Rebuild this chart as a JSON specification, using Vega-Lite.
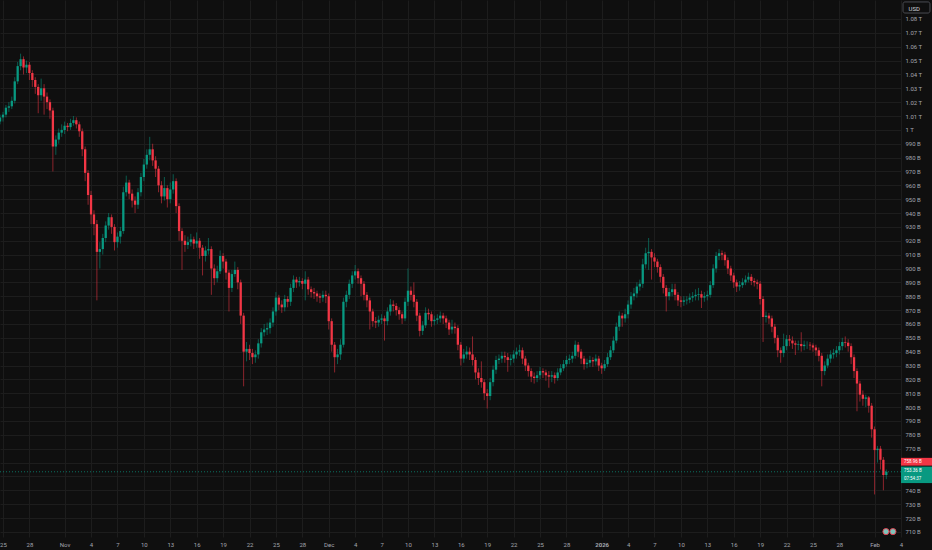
{
"$schema":"https://vega.github.io/schema/vega-lite/v6.json",
"width":901,"height":537,
"autosize":{"type":"none"},
"padding":{"left":0,"top":0,"right":31,"bottom":13},
"background":"#0f0f0f",
"config":{"view":{"stroke":null},"font":"Roboto","scale":{"continuousPadding":0}},
"datasets":{"candles":[
{"t":"2025-10-24T16:00","o":1006,"h":1011,"l":1004,"c":1009},
{"t":"2025-10-25T00:00","o":1009,"h":1013,"l":1006,"c":1011},
{"t":"2025-10-25T08:00","o":1011,"h":1018,"l":1009,"c":1016},
{"t":"2025-10-25T16:00","o":1016,"h":1020,"l":1013,"c":1017},
{"t":"2025-10-26T00:00","o":1017,"h":1024,"l":1015,"c":1021},
{"t":"2025-10-26T08:00","o":1021,"h":1038,"l":1019,"c":1035},
{"t":"2025-10-26T16:00","o":1035,"h":1049,"l":1033,"c":1046},
{"t":"2025-10-27T00:00","o":1046,"h":1055,"l":1043,"c":1051},
{"t":"2025-10-27T08:00","o":1051,"h":1053,"l":1040,"c":1045},
{"t":"2025-10-27T16:00","o":1045,"h":1050,"l":1041,"c":1047},
{"t":"2025-10-28T00:00","o":1047,"h":1049,"l":1036,"c":1041},
{"t":"2025-10-28T08:00","o":1041,"h":1043,"l":1031,"c":1036},
{"t":"2025-10-28T16:00","o":1036,"h":1038,"l":1026,"c":1031},
{"t":"2025-10-29T00:00","o":1031,"h":1033,"l":1012,"c":1025},
{"t":"2025-10-29T08:00","o":1025,"h":1037,"l":1021,"c":1030},
{"t":"2025-10-29T16:00","o":1030,"h":1033,"l":1011,"c":1024},
{"t":"2025-10-30T00:00","o":1024,"h":1027,"l":1015,"c":1020},
{"t":"2025-10-30T08:00","o":1020,"h":1022,"l":1008,"c":1014},
{"t":"2025-10-30T16:00","o":1014,"h":1016,"l":970,"c":988},
{"t":"2025-10-31T00:00","o":988,"h":996,"l":982,"c":993},
{"t":"2025-10-31T08:00","o":993,"h":1001,"l":990,"c":998},
{"t":"2025-10-31T16:00","o":998,"h":1004,"l":995,"c":1000},
{"t":"2025-11-01T00:00","o":1000,"h":1006,"l":997,"c":1003},
{"t":"2025-11-01T08:00","o":1003,"h":1005,"l":999,"c":1002},
{"t":"2025-11-01T16:00","o":1002,"h":1008,"l":1000,"c":1005},
{"t":"2025-11-02T00:00","o":1005,"h":1010,"l":1003,"c":1007},
{"t":"2025-11-02T08:00","o":1007,"h":1009,"l":1001,"c":1004},
{"t":"2025-11-02T16:00","o":1004,"h":1006,"l":995,"c":999},
{"t":"2025-11-03T00:00","o":999,"h":1001,"l":981,"c":986},
{"t":"2025-11-03T08:00","o":986,"h":988,"l":963,"c":969},
{"t":"2025-11-03T16:00","o":969,"h":971,"l":946,"c":953},
{"t":"2025-11-04T00:00","o":953,"h":956,"l":932,"c":939},
{"t":"2025-11-04T08:00","o":939,"h":942,"l":924,"c":932},
{"t":"2025-11-04T16:00","o":932,"h":935,"l":877,"c":912},
{"t":"2025-11-05T00:00","o":912,"h":919,"l":900,"c":914},
{"t":"2025-11-05T08:00","o":914,"h":925,"l":910,"c":922},
{"t":"2025-11-05T16:00","o":922,"h":934,"l":919,"c":931},
{"t":"2025-11-06T00:00","o":931,"h":940,"l":928,"c":937},
{"t":"2025-11-06T08:00","o":937,"h":939,"l":925,"c":930},
{"t":"2025-11-06T16:00","o":930,"h":932,"l":913,"c":919},
{"t":"2025-11-07T00:00","o":919,"h":926,"l":915,"c":923},
{"t":"2025-11-07T08:00","o":923,"h":930,"l":918,"c":927},
{"t":"2025-11-07T16:00","o":927,"h":959,"l":925,"c":955},
{"t":"2025-11-08T00:00","o":955,"h":967,"l":952,"c":962},
{"t":"2025-11-08T08:00","o":962,"h":964,"l":950,"c":954},
{"t":"2025-11-08T16:00","o":954,"h":957,"l":944,"c":949},
{"t":"2025-11-09T00:00","o":949,"h":952,"l":940,"c":946},
{"t":"2025-11-09T08:00","o":946,"h":958,"l":943,"c":955},
{"t":"2025-11-09T16:00","o":955,"h":969,"l":952,"c":966},
{"t":"2025-11-10T00:00","o":966,"h":979,"l":963,"c":975},
{"t":"2025-11-10T08:00","o":975,"h":986,"l":972,"c":982},
{"t":"2025-11-10T16:00","o":982,"h":995,"l":978,"c":986},
{"t":"2025-11-11T00:00","o":986,"h":990,"l":974,"c":978},
{"t":"2025-11-11T08:00","o":978,"h":981,"l":966,"c":972},
{"t":"2025-11-11T16:00","o":972,"h":974,"l":955,"c":960},
{"t":"2025-11-12T00:00","o":960,"h":963,"l":947,"c":952},
{"t":"2025-11-12T08:00","o":952,"h":966,"l":949,"c":958},
{"t":"2025-11-12T16:00","o":958,"h":960,"l":944,"c":950},
{"t":"2025-11-13T00:00","o":950,"h":962,"l":947,"c":957},
{"t":"2025-11-13T08:00","o":957,"h":968,"l":954,"c":963},
{"t":"2025-11-13T16:00","o":963,"h":965,"l":940,"c":945},
{"t":"2025-11-14T00:00","o":945,"h":947,"l":920,"c":927},
{"t":"2025-11-14T08:00","o":927,"h":929,"l":899,"c":920},
{"t":"2025-11-14T16:00","o":920,"h":924,"l":912,"c":917},
{"t":"2025-11-15T00:00","o":917,"h":923,"l":914,"c":919},
{"t":"2025-11-15T08:00","o":919,"h":925,"l":916,"c":921},
{"t":"2025-11-15T16:00","o":921,"h":923,"l":914,"c":918},
{"t":"2025-11-16T00:00","o":918,"h":926,"l":915,"c":920},
{"t":"2025-11-16T08:00","o":920,"h":922,"l":907,"c":915},
{"t":"2025-11-16T16:00","o":915,"h":917,"l":895,"c":909},
{"t":"2025-11-17T00:00","o":909,"h":916,"l":905,"c":913},
{"t":"2025-11-17T08:00","o":913,"h":922,"l":910,"c":914},
{"t":"2025-11-17T16:00","o":914,"h":916,"l":881,"c":900},
{"t":"2025-11-18T00:00","o":900,"h":903,"l":888,"c":893},
{"t":"2025-11-18T08:00","o":893,"h":902,"l":890,"c":898},
{"t":"2025-11-18T16:00","o":898,"h":913,"l":896,"c":909},
{"t":"2025-11-19T00:00","o":909,"h":911,"l":900,"c":905},
{"t":"2025-11-19T08:00","o":905,"h":907,"l":892,"c":897},
{"t":"2025-11-19T16:00","o":897,"h":899,"l":869,"c":886},
{"t":"2025-11-20T00:00","o":886,"h":899,"l":883,"c":896},
{"t":"2025-11-20T08:00","o":896,"h":905,"l":894,"c":899},
{"t":"2025-11-20T16:00","o":899,"h":901,"l":885,"c":890},
{"t":"2025-11-21T00:00","o":890,"h":892,"l":860,"c":866},
{"t":"2025-11-21T08:00","o":866,"h":868,"l":815,"c":840},
{"t":"2025-11-21T16:00","o":840,"h":847,"l":833,"c":842},
{"t":"2025-11-22T00:00","o":842,"h":845,"l":834,"c":839},
{"t":"2025-11-22T08:00","o":839,"h":842,"l":831,"c":836},
{"t":"2025-11-22T16:00","o":836,"h":841,"l":832,"c":838},
{"t":"2025-11-23T00:00","o":838,"h":849,"l":835,"c":846},
{"t":"2025-11-23T08:00","o":846,"h":857,"l":843,"c":854},
{"t":"2025-11-23T16:00","o":854,"h":860,"l":851,"c":856},
{"t":"2025-11-24T00:00","o":856,"h":861,"l":852,"c":857},
{"t":"2025-11-24T08:00","o":857,"h":864,"l":853,"c":861},
{"t":"2025-11-24T16:00","o":861,"h":872,"l":858,"c":869},
{"t":"2025-11-25T00:00","o":869,"h":883,"l":866,"c":879},
{"t":"2025-11-25T08:00","o":879,"h":881,"l":870,"c":874},
{"t":"2025-11-25T16:00","o":874,"h":877,"l":868,"c":872},
{"t":"2025-11-26T00:00","o":872,"h":881,"l":869,"c":878},
{"t":"2025-11-26T08:00","o":878,"h":880,"l":872,"c":876},
{"t":"2025-11-26T16:00","o":876,"h":889,"l":873,"c":886},
{"t":"2025-11-27T00:00","o":886,"h":895,"l":883,"c":892},
{"t":"2025-11-27T08:00","o":892,"h":894,"l":886,"c":890},
{"t":"2025-11-27T16:00","o":890,"h":894,"l":887,"c":891},
{"t":"2025-11-28T00:00","o":891,"h":893,"l":885,"c":889},
{"t":"2025-11-28T08:00","o":889,"h":898,"l":877,"c":892},
{"t":"2025-11-28T16:00","o":892,"h":894,"l":881,"c":885},
{"t":"2025-11-29T00:00","o":885,"h":887,"l":879,"c":883},
{"t":"2025-11-29T08:00","o":883,"h":886,"l":878,"c":882},
{"t":"2025-11-29T16:00","o":882,"h":884,"l":876,"c":880},
{"t":"2025-11-30T00:00","o":880,"h":882,"l":875,"c":879},
{"t":"2025-11-30T08:00","o":879,"h":884,"l":876,"c":881},
{"t":"2025-11-30T16:00","o":881,"h":884,"l":875,"c":880},
{"t":"2025-12-01T00:00","o":880,"h":882,"l":856,"c":862},
{"t":"2025-12-01T08:00","o":862,"h":864,"l":840,"c":845},
{"t":"2025-12-01T16:00","o":845,"h":847,"l":825,"c":836},
{"t":"2025-12-02T00:00","o":836,"h":842,"l":831,"c":838},
{"t":"2025-12-02T08:00","o":838,"h":849,"l":834,"c":845},
{"t":"2025-12-02T16:00","o":845,"h":879,"l":843,"c":876},
{"t":"2025-12-03T00:00","o":876,"h":884,"l":872,"c":881},
{"t":"2025-12-03T08:00","o":881,"h":892,"l":878,"c":889},
{"t":"2025-12-03T16:00","o":889,"h":898,"l":886,"c":895},
{"t":"2025-12-04T00:00","o":895,"h":902.5,"l":892,"c":898},
{"t":"2025-12-04T08:00","o":898,"h":900,"l":889,"c":893},
{"t":"2025-12-04T16:00","o":893,"h":895,"l":880,"c":889},
{"t":"2025-12-05T00:00","o":889,"h":891,"l":877,"c":881},
{"t":"2025-12-05T08:00","o":881,"h":883,"l":872,"c":877},
{"t":"2025-12-05T16:00","o":877,"h":879,"l":856,"c":869},
{"t":"2025-12-06T00:00","o":869,"h":871,"l":858,"c":862},
{"t":"2025-12-06T08:00","o":862,"h":865,"l":857,"c":861},
{"t":"2025-12-06T16:00","o":861,"h":866,"l":858,"c":863},
{"t":"2025-12-07T00:00","o":863,"h":867,"l":860,"c":864},
{"t":"2025-12-07T08:00","o":864,"h":866,"l":848,"c":862},
{"t":"2025-12-07T16:00","o":862,"h":872,"l":859,"c":869},
{"t":"2025-12-08T00:00","o":869,"h":878,"l":866,"c":874},
{"t":"2025-12-08T08:00","o":874,"h":877,"l":869,"c":873},
{"t":"2025-12-08T16:00","o":873,"h":875,"l":866,"c":870},
{"t":"2025-12-09T00:00","o":870,"h":872,"l":863,"c":867},
{"t":"2025-12-09T08:00","o":867,"h":869,"l":860,"c":864},
{"t":"2025-12-09T16:00","o":864,"h":879,"l":862,"c":876},
{"t":"2025-12-10T00:00","o":876,"h":900,"l":873,"c":884},
{"t":"2025-12-10T08:00","o":884,"h":887,"l":877,"c":881},
{"t":"2025-12-10T16:00","o":881,"h":890,"l":872,"c":876},
{"t":"2025-12-11T00:00","o":876,"h":878,"l":862,"c":866},
{"t":"2025-12-11T08:00","o":866,"h":868,"l":851,"c":855},
{"t":"2025-12-11T16:00","o":855,"h":862,"l":852,"c":859},
{"t":"2025-12-12T00:00","o":859,"h":872,"l":857,"c":868},
{"t":"2025-12-12T08:00","o":868,"h":871,"l":863,"c":867},
{"t":"2025-12-12T16:00","o":867,"h":869,"l":858,"c":862},
{"t":"2025-12-13T00:00","o":862,"h":866,"l":859,"c":863},
{"t":"2025-12-13T08:00","o":863,"h":867,"l":860,"c":864},
{"t":"2025-12-13T16:00","o":864,"h":869,"l":861,"c":866},
{"t":"2025-12-14T00:00","o":866,"h":868,"l":860,"c":864},
{"t":"2025-12-14T08:00","o":864,"h":866,"l":857,"c":861},
{"t":"2025-12-14T16:00","o":861,"h":863,"l":852,"c":856},
{"t":"2025-12-15T00:00","o":856,"h":863,"l":853,"c":858},
{"t":"2025-12-15T08:00","o":858,"h":861,"l":853,"c":857},
{"t":"2025-12-15T16:00","o":857,"h":859,"l":841,"c":845},
{"t":"2025-12-16T00:00","o":845,"h":847,"l":830,"c":835},
{"t":"2025-12-16T08:00","o":835,"h":842,"l":832,"c":838},
{"t":"2025-12-16T16:00","o":838,"h":844,"l":835,"c":840},
{"t":"2025-12-17T00:00","o":840,"h":843,"l":834,"c":838},
{"t":"2025-12-17T08:00","o":838,"h":851,"l":830,"c":834},
{"t":"2025-12-17T16:00","o":834,"h":836,"l":820,"c":825},
{"t":"2025-12-18T00:00","o":825,"h":828,"l":816,"c":821},
{"t":"2025-12-18T08:00","o":821,"h":833,"l":814,"c":818},
{"t":"2025-12-18T16:00","o":818,"h":820,"l":805,"c":810},
{"t":"2025-12-19T00:00","o":810,"h":813,"l":799,"c":808},
{"t":"2025-12-19T08:00","o":808,"h":821,"l":805,"c":818},
{"t":"2025-12-19T16:00","o":818,"h":830,"l":815,"c":827},
{"t":"2025-12-20T00:00","o":827,"h":837,"l":824,"c":834},
{"t":"2025-12-20T08:00","o":834,"h":838,"l":831,"c":835},
{"t":"2025-12-20T16:00","o":835,"h":840,"l":832,"c":837},
{"t":"2025-12-21T00:00","o":837,"h":840,"l":832,"c":836},
{"t":"2025-12-21T08:00","o":836,"h":839,"l":825.5,"c":834},
{"t":"2025-12-21T16:00","o":834,"h":838,"l":830,"c":835},
{"t":"2025-12-22T00:00","o":835,"h":841,"l":832,"c":838},
{"t":"2025-12-22T08:00","o":838,"h":843,"l":835,"c":840},
{"t":"2025-12-22T16:00","o":840,"h":845,"l":837,"c":841},
{"t":"2025-12-23T00:00","o":841,"h":843,"l":831,"c":835},
{"t":"2025-12-23T08:00","o":835,"h":837,"l":826,"c":830},
{"t":"2025-12-23T16:00","o":830,"h":832,"l":822,"c":826},
{"t":"2025-12-24T00:00","o":826,"h":828,"l":818,"c":822},
{"t":"2025-12-24T08:00","o":822,"h":825,"l":817,"c":821},
{"t":"2025-12-24T16:00","o":821,"h":826,"l":818,"c":823},
{"t":"2025-12-25T00:00","o":823,"h":829,"l":820,"c":826},
{"t":"2025-12-25T08:00","o":826,"h":828,"l":821,"c":825},
{"t":"2025-12-25T16:00","o":825,"h":827,"l":819,"c":823},
{"t":"2025-12-26T00:00","o":823,"h":826,"l":814,"c":822},
{"t":"2025-12-26T08:00","o":822,"h":826,"l":818,"c":823},
{"t":"2025-12-26T16:00","o":823,"h":825,"l":817,"c":821},
{"t":"2025-12-27T00:00","o":821,"h":828,"l":819,"c":825},
{"t":"2025-12-27T08:00","o":825,"h":831,"l":823,"c":828},
{"t":"2025-12-27T16:00","o":828,"h":834,"l":826,"c":831},
{"t":"2025-12-28T00:00","o":831,"h":837,"l":829,"c":834},
{"t":"2025-12-28T08:00","o":834,"h":838,"l":831,"c":835},
{"t":"2025-12-28T16:00","o":835,"h":840,"l":832,"c":837},
{"t":"2025-12-29T00:00","o":837,"h":848,"l":835,"c":845},
{"t":"2025-12-29T08:00","o":845,"h":847,"l":836,"c":840},
{"t":"2025-12-29T16:00","o":840,"h":842,"l":831,"c":835},
{"t":"2025-12-30T00:00","o":835,"h":837,"l":827,"c":831},
{"t":"2025-12-30T08:00","o":831,"h":835,"l":828,"c":832},
{"t":"2025-12-30T16:00","o":832,"h":837,"l":829,"c":834},
{"t":"2025-12-31T00:00","o":834,"h":836,"l":829,"c":833},
{"t":"2025-12-31T08:00","o":833,"h":838,"l":830,"c":835},
{"t":"2025-12-31T16:00","o":835,"h":837,"l":826,"c":830},
{"t":"2026-01-01T00:00","o":830,"h":832,"l":824,"c":828},
{"t":"2026-01-01T08:00","o":828,"h":834,"l":826,"c":831},
{"t":"2026-01-01T16:00","o":831,"h":839,"l":829,"c":836},
{"t":"2026-01-02T00:00","o":836,"h":844,"l":834,"c":841},
{"t":"2026-01-02T08:00","o":841,"h":851,"l":839,"c":848},
{"t":"2026-01-02T16:00","o":848,"h":861,"l":846,"c":858},
{"t":"2026-01-03T00:00","o":858,"h":869,"l":855,"c":866},
{"t":"2026-01-03T08:00","o":866,"h":868,"l":858,"c":864},
{"t":"2026-01-03T16:00","o":864,"h":871,"l":861,"c":867},
{"t":"2026-01-04T00:00","o":867,"h":877,"l":864,"c":874},
{"t":"2026-01-04T08:00","o":874,"h":883,"l":871,"c":880},
{"t":"2026-01-04T16:00","o":880,"h":886,"l":877,"c":882},
{"t":"2026-01-05T00:00","o":882,"h":890,"l":879,"c":887},
{"t":"2026-01-05T08:00","o":887,"h":892,"l":884,"c":889},
{"t":"2026-01-05T16:00","o":889,"h":907,"l":886,"c":903},
{"t":"2026-01-06T00:00","o":903,"h":915,"l":900,"c":911},
{"t":"2026-01-06T08:00","o":911,"h":922,"l":899,"c":912},
{"t":"2026-01-06T16:00","o":912,"h":914,"l":892,"c":908},
{"t":"2026-01-07T00:00","o":908,"h":911,"l":901,"c":905},
{"t":"2026-01-07T08:00","o":905,"h":907,"l":897,"c":901},
{"t":"2026-01-07T16:00","o":901,"h":903,"l":890,"c":894},
{"t":"2026-01-08T00:00","o":894,"h":896,"l":882,"c":886},
{"t":"2026-01-08T08:00","o":886,"h":888,"l":869,"c":880},
{"t":"2026-01-08T16:00","o":880,"h":886,"l":877,"c":883},
{"t":"2026-01-09T00:00","o":883,"h":889,"l":880,"c":885},
{"t":"2026-01-09T08:00","o":885,"h":889,"l":877,"c":881},
{"t":"2026-01-09T16:00","o":881,"h":883,"l":873,"c":877},
{"t":"2026-01-10T00:00","o":877,"h":880,"l":872,"c":876},
{"t":"2026-01-10T08:00","o":876,"h":880,"l":873,"c":877},
{"t":"2026-01-10T16:00","o":877,"h":880,"l":874,"c":877.5},
{"t":"2026-01-11T00:00","o":877.5,"h":882,"l":875,"c":879},
{"t":"2026-01-11T08:00","o":879,"h":883,"l":876,"c":880},
{"t":"2026-01-11T16:00","o":880,"h":885,"l":877,"c":881},
{"t":"2026-01-12T00:00","o":881,"h":886,"l":877,"c":881.5},
{"t":"2026-01-12T08:00","o":881.5,"h":884,"l":871.5,"c":879},
{"t":"2026-01-12T16:00","o":879,"h":883,"l":876,"c":880},
{"t":"2026-01-13T00:00","o":880,"h":884,"l":877,"c":881},
{"t":"2026-01-13T08:00","o":881,"h":891,"l":879,"c":888},
{"t":"2026-01-13T16:00","o":888,"h":903,"l":886,"c":900},
{"t":"2026-01-14T00:00","o":900,"h":912,"l":897,"c":909},
{"t":"2026-01-14T08:00","o":909,"h":914,"l":906,"c":911},
{"t":"2026-01-14T16:00","o":911,"h":913,"l":906,"c":910},
{"t":"2026-01-15T00:00","o":910,"h":912,"l":902,"c":906},
{"t":"2026-01-15T08:00","o":906,"h":908,"l":896,"c":900},
{"t":"2026-01-15T16:00","o":900,"h":902,"l":891,"c":895},
{"t":"2026-01-16T00:00","o":895,"h":897,"l":886,"c":890},
{"t":"2026-01-16T08:00","o":890,"h":892,"l":883,"c":887},
{"t":"2026-01-16T16:00","o":887,"h":891,"l":884,"c":888},
{"t":"2026-01-17T00:00","o":888,"h":893,"l":886,"c":890},
{"t":"2026-01-17T08:00","o":890,"h":895,"l":888,"c":892},
{"t":"2026-01-17T16:00","o":892,"h":897,"l":890,"c":894},
{"t":"2026-01-18T00:00","o":894,"h":896,"l":888,"c":891},
{"t":"2026-01-18T08:00","o":891,"h":893,"l":887,"c":890},
{"t":"2026-01-18T16:00","o":890,"h":892,"l":885,"c":889},
{"t":"2026-01-19T00:00","o":889,"h":891,"l":874,"c":878},
{"t":"2026-01-19T08:00","o":878,"h":880,"l":847,"c":865},
{"t":"2026-01-19T16:00","o":865,"h":869,"l":861,"c":866},
{"t":"2026-01-20T00:00","o":866,"h":868,"l":860,"c":864},
{"t":"2026-01-20T08:00","o":864,"h":866,"l":854,"c":858},
{"t":"2026-01-20T16:00","o":858,"h":860,"l":846,"c":850},
{"t":"2026-01-21T00:00","o":850,"h":852,"l":836,"c":841},
{"t":"2026-01-21T08:00","o":841,"h":843,"l":832,"c":839},
{"t":"2026-01-21T16:00","o":839,"h":853,"l":836,"c":844},
{"t":"2026-01-22T00:00","o":844,"h":852,"l":841,"c":849},
{"t":"2026-01-22T08:00","o":849,"h":852,"l":844,"c":848},
{"t":"2026-01-22T16:00","o":848,"h":851,"l":842,"c":846},
{"t":"2026-01-23T00:00","o":846,"h":848,"l":837.6,"c":845},
{"t":"2026-01-23T08:00","o":845,"h":848,"l":841,"c":845.5},
{"t":"2026-01-23T16:00","o":845.5,"h":854,"l":840,"c":844},
{"t":"2026-01-24T00:00","o":844,"h":848,"l":841,"c":845},
{"t":"2026-01-24T08:00","o":845,"h":847.5,"l":842,"c":845},
{"t":"2026-01-24T16:00","o":845,"h":847,"l":841,"c":844.5},
{"t":"2026-01-25T00:00","o":844.5,"h":846,"l":840,"c":843},
{"t":"2026-01-25T08:00","o":843,"h":845,"l":837,"c":841},
{"t":"2026-01-25T16:00","o":841,"h":843,"l":833,"c":837},
{"t":"2026-01-26T00:00","o":837,"h":839,"l":815,"c":826},
{"t":"2026-01-26T08:00","o":826,"h":833,"l":823,"c":830},
{"t":"2026-01-26T16:00","o":830,"h":838,"l":828,"c":835},
{"t":"2026-01-27T00:00","o":835,"h":841,"l":832,"c":838},
{"t":"2026-01-27T08:00","o":838,"h":842,"l":835,"c":839},
{"t":"2026-01-27T16:00","o":839,"h":844,"l":836,"c":841},
{"t":"2026-01-28T00:00","o":841,"h":847,"l":838,"c":844},
{"t":"2026-01-28T08:00","o":844,"h":850,"l":841,"c":847},
{"t":"2026-01-28T16:00","o":847,"h":851,"l":843,"c":846.5},
{"t":"2026-01-29T00:00","o":846.5,"h":849,"l":840,"c":844},
{"t":"2026-01-29T08:00","o":844,"h":846,"l":831,"c":836},
{"t":"2026-01-29T16:00","o":836,"h":838,"l":821,"c":826},
{"t":"2026-01-30T00:00","o":826,"h":828,"l":797,"c":817},
{"t":"2026-01-30T08:00","o":817,"h":819,"l":804,"c":809},
{"t":"2026-01-30T16:00","o":809,"h":812,"l":801,"c":806},
{"t":"2026-01-31T00:00","o":806,"h":809,"l":800,"c":807},
{"t":"2026-01-31T08:00","o":807,"h":808,"l":796,"c":801},
{"t":"2026-01-31T16:00","o":801,"h":803,"l":778,"c":784},
{"t":"2026-02-01T00:00","o":784,"h":786,"l":737,"c":769},
{"t":"2026-02-01T08:00","o":769,"h":772,"l":760,"c":770},
{"t":"2026-02-01T16:00","o":770,"h":772,"l":755,"c":762},
{"t":"2026-02-02T00:00","o":762,"h":764,"l":740,"c":751},
{"t":"2026-02-02T08:00","o":751,"h":755,"l":748,"c":753.36}
]},
"layer":[
{"data":{"name":"candles"},
 "mark":{"type":"rule","strokeWidth":1,"opacity":0.55},
 "encoding":{
  "x":{"field":"t","type":"temporal","title":null,
   "scale":{"domain":[{"year":2025,"month":10,"date":24,"hours":15,"minutes":50},{"year":2026,"month":2,"date":4}],"nice":false,"padding":0},
   "axis":{"orient":"bottom","ticks":false,"domain":false,"grid":true,"gridColor":"#1d1d1d","gridWidth":1,"tickCount":200,
    "labelColor":"#a3a6af","labelFontSize":6,"labelPadding":4,"labelOverlap":false,"labelFlush":false,
    "labelFontWeight":{"condition":{"test":"month(datum.value)==0 && date(datum.value)==1","value":"bold"},"value":"normal"},
    "values":[{"year":2025,"month":10,"date":25},{"year":2025,"month":10,"date":28},
     {"year":2025,"month":11,"date":1},{"year":2025,"month":11,"date":4},{"year":2025,"month":11,"date":7},{"year":2025,"month":11,"date":10},{"year":2025,"month":11,"date":13},{"year":2025,"month":11,"date":16},{"year":2025,"month":11,"date":19},{"year":2025,"month":11,"date":22},{"year":2025,"month":11,"date":25},{"year":2025,"month":11,"date":28},
     {"year":2025,"month":12,"date":1},{"year":2025,"month":12,"date":4},{"year":2025,"month":12,"date":7},{"year":2025,"month":12,"date":10},{"year":2025,"month":12,"date":13},{"year":2025,"month":12,"date":16},{"year":2025,"month":12,"date":19},{"year":2025,"month":12,"date":22},{"year":2025,"month":12,"date":25},{"year":2025,"month":12,"date":28},
     {"year":2026,"month":1,"date":1},{"year":2026,"month":1,"date":4},{"year":2026,"month":1,"date":7},{"year":2026,"month":1,"date":10},{"year":2026,"month":1,"date":13},{"year":2026,"month":1,"date":16},{"year":2026,"month":1,"date":19},{"year":2026,"month":1,"date":22},{"year":2026,"month":1,"date":25},{"year":2026,"month":1,"date":28},
     {"year":2026,"month":2,"date":1},{"year":2026,"month":2,"date":4}],
    "labelExpr":"date(datum.value) == 1 ? (month(datum.value) == 0 ? timeFormat(datum.value, '%Y') : timeFormat(datum.value, '%b')) : '' + date(datum.value)"}},
  "y":{"field":"l","type":"quantitative","title":"USD",
   "scale":{"domain":[706.3,1093.7],"nice":false,"zero":false,"padding":0},
   "axis":{"orient":"right","ticks":false,"domain":false,"grid":true,"gridColor":"#1d1d1d","gridWidth":1,"tickCount":200,
    "labelColor":"#a3a6af","labelFontSize":6,"labelPadding":4,"labelAlign":"left","labelBaseline":"middle","labelOverlap":false,"labelFlush":false,
    "values":[710,720,730,740,750,760,770,780,790,800,810,820,830,840,850,860,870,880,890,900,910,920,930,940,950,960,970,980,990,1000,1010,1020,1030,1040,1050,1060,1070,1080],
    "labelExpr":"(datum.value == 750 || datum.value == 760) ? '' : (datum.value >= 1000 ? (datum.value == 1000 ? '1 T' : format(datum.value / 1000, '.2f') + ' T') : datum.value + ' B')",
    "titleAngle":0,"titleAlign":"left","titleBaseline":"middle","titleX":7,"titleY":8,"titleFontSize":6,"titleFontWeight":"normal","titleColor":"#d1d4dc"}},
  "y2":{"field":"h"},
  "color":{"condition":{"test":"datum.c >= datum.o","value":"#089981"},"value":"#f23645"}
 }},
{"data":{"name":"candles"},
 "mark":{"type":"bar","width":2.3},
 "encoding":{
  "x":{"field":"t","type":"temporal","title":null},
  "y":{"field":"o","type":"quantitative","title":"USD"},
  "y2":{"field":"c"},
  "color":{"condition":{"test":"datum.c >= datum.o","value":"#089981"},"value":"#f23645"}
 }},
{"data":{"values":[{"p":753.36}]},
 "mark":{"type":"rule","color":"#089981","strokeDash":[1,2],"opacity":0.7,"strokeWidth":1},
 "encoding":{"y":{"field":"p","type":"quantitative","title":"USD"}}},
{"data":{"values":[{"t":"2026-02-04T05:30","t2":"2026-02-07T07:00","p":1092.3,"p2":1084.3}]},
 "mark":{"type":"rect","fill":null,"stroke":"#4a4c52","strokeWidth":1,"cornerRadius":2},
 "encoding":{"x":{"field":"t","type":"temporal","title":null},"x2":{"field":"t2"},"y":{"field":"p","type":"quantitative","title":"USD"},"y2":{"field":"p2"}}},
{"data":{"values":[{"t":"2026-02-04T00:00","t2":"2026-02-07T14:00","p":763.4,"p2":757.8}]},
 "mark":{"type":"rect","color":"#f23645"},
 "encoding":{"x":{"field":"t","type":"temporal","title":null},"x2":{"field":"t2"},"y":{"field":"p","type":"quantitative","title":"USD"},"y2":{"field":"p2"}}},
{"data":{"values":[{"t":"2026-02-04T00:00","t2":"2026-02-07T14:00","p":757.1,"p2":745.2}]},
 "mark":{"type":"rect","color":"#089981"},
 "encoding":{"x":{"field":"t","type":"temporal","title":null},"x2":{"field":"t2"},"y":{"field":"p","type":"quantitative","title":"USD"},"y2":{"field":"p2"}}},
{"data":{"values":[{"t":"2026-02-04T08:00","p":760.6,"txt":"758.96 B"},{"t":"2026-02-04T08:00","p":754.2,"txt":"753.36 B"},{"t":"2026-02-04T08:00","p":748.0,"txt":"07:54:37"}]},
 "mark":{"type":"text","align":"left","baseline":"middle","fontSize":4.5,"color":"#ffffff"},
 "encoding":{"x":{"field":"t","type":"temporal","title":null},"y":{"field":"p","type":"quantitative","title":"USD"},"text":{"field":"txt"}}},
{"data":{"values":[{"t":"2026-02-02T07:00","p":710.2},{"t":"2026-02-03T02:00","p":710.2}]},
 "mark":{"type":"point","filled":true,"shape":"circle","size":38,"fill":"#7fc4bb","stroke":"#e0404f","strokeWidth":1,"opacity":1},
 "encoding":{"x":{"field":"t","type":"temporal","title":null},"y":{"field":"p","type":"quantitative","title":"USD"}}}
]
}
